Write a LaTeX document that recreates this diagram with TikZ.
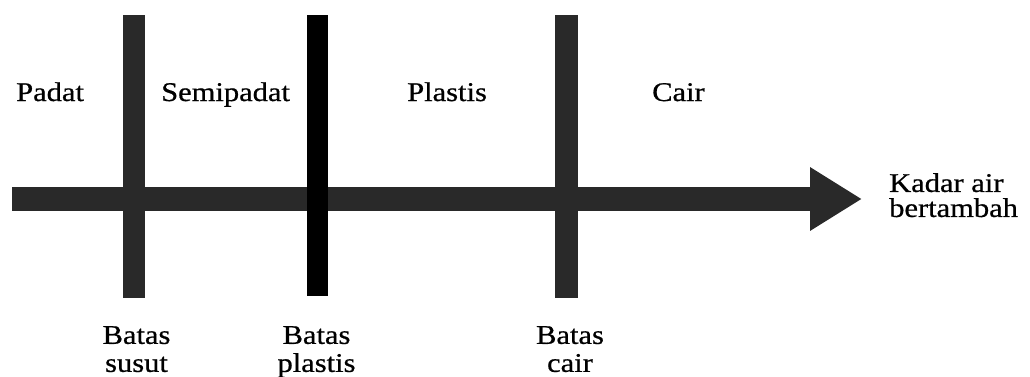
\documentclass[tikz,border=0pt]{standalone}
\usepackage{fontspec}
\setmainfont{Liberation Serif}[FakeStretch=1.13,FakeBold=0.7]
\usetikzlibrary{arrows.meta}
\definecolor{bargray}{gray}{0.16}
\tikzset{
  shaft/.style={line width=24pt, draw=bargray, -{Triangle[length=52pt,width=60pt]}},
  greybar/.style={line width=22pt, draw=bargray},
  blackbar/.style={line width=21pt, draw=black},
  lbl/.style={inner sep=0pt, font=\fontsize{27}{28}\selectfont},
  lbltwo/.style={inner sep=0pt, align=center, anchor=north, font=\fontsize{27}{28}\selectfont},
}
\begin{document}
\begin{tikzpicture}[x=1pt,y=1pt]
\useasboundingbox (0,0) rectangle (1030,376);
% arrow
\coordinate (start) at (12,177);
\coordinate (end) at (862,177);
\draw[shaft] (start) -- (end);
% bars
\coordinate (b1t) at (134,361); \coordinate (b1b) at (134,78);
\coordinate (b2t) at (317.5,361); \coordinate (b2b) at (317.5,80);
\coordinate (b3t) at (566.5,361); \coordinate (b3b) at (566.5,78);
\draw[greybar] (b1t) -- (b1b);
\draw[blackbar] (b2t) -- (b2b);
\draw[greybar, line width=23pt] (b3t) -- (b3b);
% top labels
\node[lbl, anchor=base west] (padat) at (16,275) {Padat};
\node[lbl, anchor=base west] (semi) at (161,275) {Semipadat};
\node[lbl, anchor=base west] (plastis) at (407,275) {Plastis};
\node[lbl, anchor=base west] (cair) at (652,275) {Cair};
% right label
\node[inner sep=0pt, align=left, anchor=north west, font=\fontsize{27}{25}\selectfont] (kadar) at (889,203) {Kadar air\\bertambah};
% bottom labels
\node[lbltwo] (bsusut) at (136.5,50) {Batas\\susut};
\node[lbltwo] (bplastis) at (316.5,50) {Batas\\plastis};
\node[lbltwo] (bcair) at (570,50) {Batas\\cair};
\end{tikzpicture}
\end{document}
